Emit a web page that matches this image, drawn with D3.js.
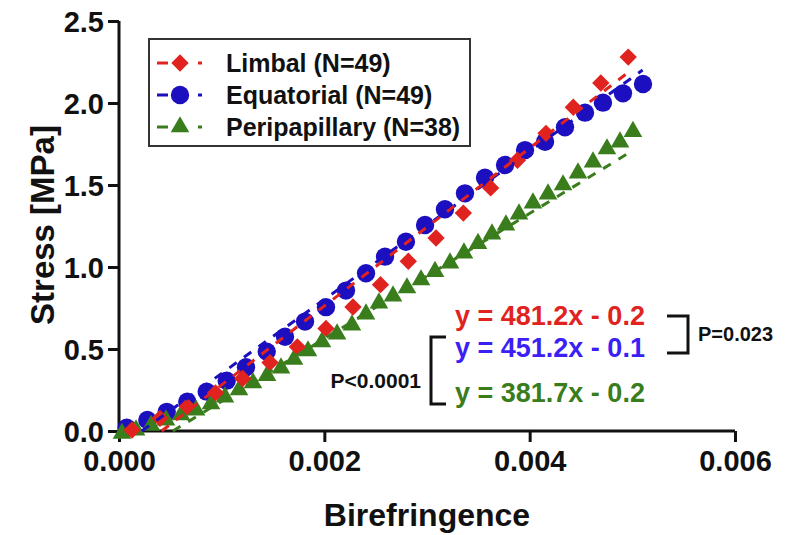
<!DOCTYPE html>
<html>
<head>
<meta charset="utf-8">
<script src="https://cdn.jsdelivr.net/npm/d3@7"></script>
<style>
  body { margin: 0; background: #fff; }
  text { font-family: "Liberation Sans", Arial, sans-serif; font-weight: bold; }
</style>
</head>
<body>
<div id="chart"></div>
<script>
// binned data: [birefringence, stress MPa]
var limbal = [
  [0.000127, 0.006], [0.000399, 0.077], [0.000665, 0.149], [0.000940, 0.233],
  [0.001205, 0.320], [0.001471, 0.417], [0.001737, 0.513], [0.002016, 0.625],
  [0.002279, 0.756], [0.002547, 0.892], [0.002818, 1.035], [0.003088, 1.177],
  [0.003354, 1.329], [0.003620, 1.482], [0.003881, 1.651], [0.004159, 1.815],
  [0.004425, 1.974], [0.004693, 2.122], [0.004960, 2.280]
];
var equatorial = [
  [0.000075, 0.020], [0.000276, 0.067], [0.000465, 0.117], [0.000665, 0.179],
  [0.000854, 0.240], [0.001049, 0.307], [0.001237, 0.389], [0.001439, 0.484],
  [0.001617, 0.575], [0.001812, 0.667], [0.002016, 0.755], [0.002211, 0.856],
  [0.002406, 0.962], [0.002591, 1.063], [0.002795, 1.154], [0.002981, 1.256],
  [0.003175, 1.352], [0.003370, 1.449], [0.003565, 1.544], [0.003760, 1.622],
  [0.003955, 1.713], [0.004150, 1.764], [0.004344, 1.852], [0.004539, 1.941],
  [0.004714, 2.002], [0.004909, 2.059], [0.005104, 2.116]
];
var peripapillary = [
  [0.000029, -0.015], [0.000166, 0.006], [0.000312, 0.034], [0.000458, 0.067],
  [0.000604, 0.098], [0.000750, 0.128], [0.000896, 0.165], [0.001032, 0.207],
  [0.001169, 0.250], [0.001305, 0.293], [0.001442, 0.338], [0.001578, 0.384],
  [0.001705, 0.436], [0.001841, 0.488], [0.001977, 0.543], [0.002124, 0.591],
  [0.002269, 0.646], [0.002406, 0.713], [0.002532, 0.780], [0.002669, 0.823],
  [0.002805, 0.872], [0.002942, 0.921], [0.003078, 0.972], [0.003224, 1.024],
  [0.003360, 1.085], [0.003497, 1.143], [0.003633, 1.201], [0.003769, 1.256],
  [0.003896, 1.323], [0.004032, 1.390], [0.004179, 1.445], [0.004325, 1.500],
  [0.004471, 1.573], [0.004617, 1.640], [0.004753, 1.720], [0.004880, 1.762],
  [0.005006, 1.826]
];

var seriesNames = ["Limbal (N=49)", "Equatorial (N=49)", "Peripapillary (N=38)"];
// linear fits as printed: slope, intercept, x range of the dashed line
var fitSlopes = [481.2, 451.2, 381.7];
var fitIntercepts = [-0.2, -0.1, -0.2];
var fitEnds = [0.00496, 0.0051, 0.00501];
var equationLabels = ["y = 481.2x - 0.2", "y = 451.2x - 0.1", "y = 381.7x - 0.2"];

var xTicks = [0, 0.002, 0.004, 0.006];
var yTicks = [0, 0.5, 1.0, 1.5, 2.0, 2.5];

var width = 785,
    height = 535

var colors = ["#e0231f", "#1c0fbf", "#3a7d1c"]
var textColors = ["#e0231f", "#3b1ff5", "#3a7d1c"]
var shapes = [d3.symbolSquare, d3.symbolCircle, d3.symbolTriangle]
var sizes = [150, 265, 150]
var rotations = [45, 0, 0]

var svg = d3.select("#chart")
  .append("svg")
    .attr("width", width)
    .attr("height", height)

var x = d3.scaleLinear()
    .domain([0, 0.006])
    .range([119, 735])

var y = d3.scaleLinear()
    .domain([0, 2.5])
    .range([431, 21])

// axes
var xAxis = svg.append("g")
    .attr("transform", "translate(0," + y(0) + ")")
    .call(d3.axisBottom(x).tickValues(xTicks).tickFormat(d3.format(".3f")).tickSize(11).tickPadding(8))
var yAxis = svg.append("g")
    .attr("transform", "translate(" + x(0) + ",0)")
    .call(d3.axisLeft(y).tickValues(yTicks).tickFormat(d3.format(".1f")).tickSize(11).tickPadding(4))

svg.selectAll(".domain").attr("stroke", "#111").attr("stroke-width", 3)
xAxis.select(".domain").attr("d", "M" + x(0) + ",0H" + x(0.006))
yAxis.select(".domain").attr("d", "M0," + y(0) + "V" + y(2.5))
svg.selectAll(".tick line").attr("stroke", "#111").attr("stroke-width", 3)
svg.selectAll(".tick text").attr("fill", "#111").style("font-size", "29px")
  .style("font-family", "'Liberation Sans', Arial, sans-serif").style("font-weight", "bold")
yAxis.selectAll(".tick text").attr("dy", "0.36em")

svg.append("text")
    .attr("x", (x(0) + x(0.006)) / 2)
    .attr("y", 526)
    .attr("text-anchor", "middle")
    .style("font-size", "32px")
    .attr("fill", "#111")
    .text("Birefringence")

svg.append("text")
    .attr("transform", "translate(54,225) rotate(-90)")
    .attr("text-anchor", "middle")
    .style("font-size", "33px")
    .attr("fill", "#111")
    .text("Stress [MPa]")

// points
var allSeries = [limbal, equatorial, peripapillary]
var drawOrder = [1, 2, 0]
drawOrder.forEach(function(i) {
  svg.append("g")
    .selectAll("path")
    .data(allSeries[i])
    .enter()
    .append("path")
      .attr("d", d3.symbol().type(shapes[i]).size(sizes[i]))
      .attr("transform", function(d) {
        return "translate(" + x(d[0]) + "," + y(d[1]) + ") rotate(" + rotations[i] + ")"
      })
      .attr("fill", colors[i])
})

// dashed fit lines
var line = d3.line()
    .x(function(d) { return x(d[0]) })
    .y(function(d) { return y(d[1]) })
drawOrder.forEach(function(i) {
  var x0 = -fitIntercepts[i] / fitSlopes[i]
  var x1 = fitEnds[i]
  svg.append("path")
    .attr("d", line([[x0, 0], [x1, fitSlopes[i] * x1 + fitIntercepts[i]]]))
    .attr("stroke", colors[i])
    .attr("stroke-width", 3)
    .attr("stroke-dasharray", "9,9")
    .attr("fill", "none")
})

// legend
var legend = svg.append("g")
legend.append("rect")
    .attr("x", 149).attr("y", 39)
    .attr("width", 321).attr("height", 107)
    .attr("fill", "#fff")
    .attr("stroke", "#333")
    .attr("stroke-width", 2)
var rowY = [63, 95, 127]
seriesNames.forEach(function(name, i) {
  legend.append("line")
    .attr("x1", 157).attr("x2", 203)
    .attr("y1", rowY[i]).attr("y2", rowY[i])
    .attr("stroke", colors[i])
    .attr("stroke-width", 3)
    .attr("stroke-dasharray", "11,30,4")
  legend.append("path")
    .attr("d", d3.symbol().type(shapes[i]).size(sizes[i]))
    .attr("transform", "translate(180," + rowY[i] + ") rotate(" + rotations[i] + ")")
    .attr("fill", colors[i])
  legend.append("text")
    .attr("x", 226)
    .attr("y", rowY[i] + 9)
    .style("font-size", "25px")
    .attr("fill", "#111")
    .text(name)
})

// equations and significance brackets
var eqY = [325, 357, 402]
equationLabels.forEach(function(t, i) {
  svg.append("text")
    .attr("x", 455)
    .attr("y", eqY[i])
    .style("font-size", "27px")
    .attr("fill", textColors[i])
    .text(t)
})

svg.append("path")
    .attr("d", "M667,316H688V353H667")
    .attr("fill", "none")
    .attr("stroke", "#111")
    .attr("stroke-width", 3)
svg.append("text")
    .attr("x", 698).attr("y", 341)
    .style("font-size", "20px")
    .attr("fill", "#111")
    .text("P=0.023")

svg.append("path")
    .attr("d", "M446,337H431V404H446")
    .attr("fill", "none")
    .attr("stroke", "#111")
    .attr("stroke-width", 3)
svg.append("text")
    .attr("x", 421).attr("y", 388)
    .attr("text-anchor", "end")
    .style("font-size", "21px")
    .attr("fill", "#111")
    .text("P<0.0001")
</script>
</body>
</html>
